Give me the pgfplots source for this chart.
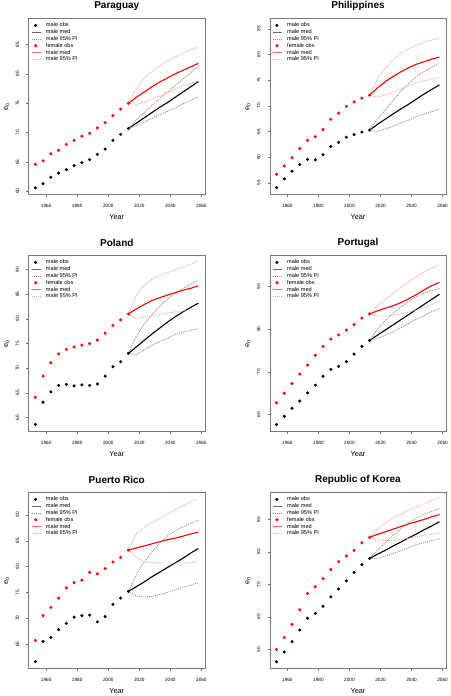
\documentclass[border=0pt]{standalone}
\usepackage{fontspec}
\setmainfont{Liberation Sans}
\usepackage{pgfplots}
\usepackage{pgfplotstable}
\pgfplotsset{compat=1.18}

\definecolor{pigrey}{RGB}{150,150,150}
\definecolor{pipink}{RGB}{255,160,160}
\definecolor{boxgrey}{RGB}{120,120,120}

\newcommand\tickfont{\fontsize{4.7}{5}\selectfont}
\newcommand\legfont{\fontsize{5.6}{6}\selectfont}
\newcommand\labfont{\fontsize{7.3}{8}\selectfont}
\newcommand\titfont{\fontsize{10}{12}\selectfont\bfseries}

\pgfplotsset{
  e0axis/.style={
    scale only axis, width=176pt, height=175.5pt,
    xmin=1948.8, xmax=2062.2,
    xtick={1960,1980,2000,2020,2040,2060},
    tick align=outside, tick pos=left,
    major tick length=2.3pt,
    axis line style={boxgrey, line width=0.6pt},
    every tick/.style={boxgrey, line width=0.5pt},
    /pgf/number format/assume math mode=true,
    /pgf/number format/1000 sep={},
    xticklabel style={font=\tickfont, inner sep=0pt, anchor=center, yshift=-9pt},
    yticklabel style={font=\tickfont, inner sep=0pt, xshift=-9pt, rotate=90, anchor=center},
    xlabel={Year}, ylabel={e\textsubscript{0}},
    xlabel style={font=\labfont, at={(axis description cs:0.5,-0.131)}, anchor=center},
    ylabel style={font=\labfont, at={(axis description cs:-0.125,0.5)}, anchor=center, rotate=0},
    every axis title shift=0pt,
    title style={font=\titfont, at={(axis description cs:0.5,1.074)}, anchor=center},
    legend cell align=left,
    legend style={draw=none, fill=none, at={(axis description cs:0.0136,0.978)}, anchor=north west,
      inner sep=0pt, font=\legfont, column sep=5pt, row sep=1.8pt,
      nodes={inner sep=0pt, text height=4pt, text depth=1pt}},
  },
  obsblack/.style={only marks, mark=*, mark size=1.35pt, black,
    legend image code/.code={\fill[black] (4pt,0pt) circle (1.35pt);}},
  obsred/.style={only marks, mark=*, mark size=1.35pt, red,
    legend image code/.code={\fill[red] (4pt,0pt) circle (1.35pt);}},
  medblack/.style={no marks, black, line width=1.1pt,
    legend image code/.code={\draw[black!60, line width=0.5pt] (0pt,0pt) -- (9pt,0pt);}},
  medred/.style={no marks, red, line width=1.1pt,
    legend image code/.code={\draw[red!60, line width=0.5pt] (0pt,0pt) -- (9pt,0pt);}},
  piblack/.style={no marks, pigrey, line width=0.9pt, dash pattern=on 1pt off 1pt,
    legend image code/.code={\draw[pigrey, line width=0.6pt, dash pattern=on 1pt off 1pt] (0pt,0pt) -- (9pt,0pt);}},
  pired/.style={no marks, pipink, line width=0.9pt, dash pattern=on 1pt off 1pt,
    legend image code/.code={\draw[pipink, line width=0.6pt, dash pattern=on 1pt off 1pt] (0pt,0pt) -- (9pt,0pt);}},
}

% observed data
\pgfplotstableread{
year m f
1953 60.6 64.6
1958 61.3 65.2
1963 62.4 66.4
1968 63.1 67.0
1973 63.7 68.0
1978 64.4 68.7
1983 64.9 69.4
1988 65.4 69.9
1993 66.3 70.8
1998 67.2 71.7
2003 68.7 72.9
2008 69.7 74.0
2013 70.7 75.0
}\paraobs
\pgfplotstableread{
year mmed mup mlo fmed fup flo
2013 70.7 70.7 70.7 75.0 75.0 75.0
2018 71.6 72.1 71.2 76.0 77.5 74.8
2023 72.5 73.4 71.8 76.9 79.2 75.2
2028 73.4 74.6 72.4 77.8 80.4 75.7
2033 74.3 75.8 73.0 78.6 81.4 76.2
2038 75.1 76.9 73.6 79.3 82.2 76.8
2043 76.0 78.0 74.2 80.0 82.9 77.4
2048 76.9 79.1 74.9 80.6 83.5 78.0
2053 77.8 80.2 75.5 81.2 84.1 78.4
2058 78.7 81.3 76.1 81.8 84.6 78.8
}\paraproj

\pgfplotstableread{
year m f
1953 54.1 56.7
1958 55.8 58.3
1963 57.3 59.9
1968 58.6 61.7
1973 59.6 63.3
1978 59.5 64.0
1983 60.5 65.4
1988 62.1 67.4
1993 62.9 68.6
1998 63.9 69.9
2003 64.4 70.8
2008 64.9 71.5
2013 65.3 72.1
}\phobs
\pgfplotstableread{
year mmed mup mlo fmed fup flo
2013 65.3 65.3 65.3 72.1 72.1 72.1
2018 66.4 67.4 65.0 73.5 75.3 71.7
2023 67.4 69.2 65.5 74.7 77.2 72.1
2028 68.4 71.0 66.0 75.7 78.9 72.7
2033 69.4 72.8 66.7 76.6 80.2 73.3
2038 70.3 74.3 67.2 77.4 81.1 73.9
2043 71.3 75.7 67.9 78.1 81.8 74.5
2048 72.3 76.7 68.4 78.6 82.4 74.9
2053 73.2 77.5 68.9 79.1 82.8 75.2
2058 74.1 78.3 69.4 79.5 83.2 75.5
}\phproj

\pgfplotstableread{
year m f
1953 58.6 64.1
1958 63.1 68.4
1963 65.2 71.1
1968 66.5 72.9
1973 66.7 73.8
1978 66.4 74.3
1983 66.6 74.7
1988 66.5 75.0
1993 66.8 75.7
1998 68.4 77.1
2003 70.3 78.7
2008 71.3 79.8
2013 73.0 81.0
}\plobs
\pgfplotstableread{
year mmed mup mlo fmed fup flo
2013 73.0 73.0 73.0 81.0 81.0 81.0
2018 74.3 76.5 72.7 82.0 84.8 80.1
2023 75.6 78.9 73.7 82.9 86.8 80.3
2028 76.9 80.8 74.6 83.7 88.0 80.6
2033 78.1 82.5 75.4 84.3 88.8 80.9
2038 79.3 84.0 76.1 84.8 89.4 81.2
2043 80.4 85.2 76.8 85.3 89.9 81.4
2048 81.4 86.2 77.3 85.8 90.5 81.6
2053 82.3 87.0 77.7 86.2 91.1 81.8
2058 83.2 87.8 78.0 86.7 91.8 82.0
}\plproj

\pgfplotstableread{
year m f
1953 57.7 62.8
1958 59.6 65.0
1963 61.5 67.3
1968 63.2 69.5
1973 65.1 71.6
1978 66.9 73.9
1983 69.0 76.0
1988 70.6 77.7
1993 71.3 78.7
1998 72.4 79.8
2003 74.2 81.1
2008 76.0 82.6
2013 77.4 83.6
}\ptobs
\pgfplotstableread{
year mmed mup mlo fmed fup flo
2013 77.4 77.4 77.4 83.6 83.6 83.6
2018 78.6 80.0 77.8 84.3 85.5 83.1
2023 79.8 82.0 78.6 84.9 87.0 83.1
2028 81.0 83.7 79.4 85.5 88.4 83.3
2033 82.2 85.2 80.3 86.2 89.8 83.6
2038 83.4 86.5 81.3 87.1 91.1 84.0
2043 84.6 87.6 82.3 88.1 92.3 84.5
2048 85.8 88.4 83.2 89.2 93.4 85.1
2053 87.0 89.0 84.1 90.2 94.3 85.8
2058 88.2 89.6 84.9 91.0 95.1 86.5
}\ptproj

\pgfplotstableread{
year m f
1953 61.6 65.7
1958 65.5 70.5
1963 66.3 72.1
1968 67.8 73.9
1973 69.0 75.9
1978 70.2 76.9
1983 70.5 77.4
1988 70.6 78.9
1993 69.3 78.6
1998 70.3 79.6
2003 72.7 80.9
2008 73.9 81.8
2013 75.2 83.2
}\probs
\pgfplotstableread{
year mmed mup mlo fmed fup flo
2013 75.2 75.2 75.2 83.2 83.2 83.2
2018 76.1 78.4 74.3 83.6 86.3 81.8
2023 77.0 80.8 74.1 84.0 87.6 81.0
2028 78.0 82.8 74.2 84.4 88.5 80.8
2033 78.9 84.5 74.6 84.8 89.3 80.7
2038 79.8 85.9 75.0 85.2 90.2 80.7
2043 80.7 86.9 75.5 85.5 91.0 80.7
2048 81.6 87.7 76.0 85.9 91.8 80.7
2053 82.6 88.4 76.4 86.3 92.5 80.8
2058 83.5 89.0 76.9 86.7 93.2 80.9
}\prproj

\pgfplotstableread{
year m f
1953 46.2 50.0
1958 49.2 53.7
1963 52.4 57.7
1968 56.0 62.2
1973 59.6 67.2
1978 61.1 69.3
1983 63.3 71.8
1988 66.2 74.6
1993 68.6 77.0
1998 71.1 78.8
2003 73.7 80.5
2008 76.1 82.8
2013 78.0 84.5
}\krobs
\pgfplotstableread{
year mmed mup mlo fmed fup flo
2013 78.0 78.0 78.0 84.5 84.5 84.5
2018 79.3 80.5 78.0 85.4 87.2 83.7
2023 80.5 82.9 78.7 86.2 88.9 83.5
2028 81.8 85.0 79.5 87.0 90.4 83.6
2033 83.0 87.1 80.3 87.8 91.7 83.9
2038 84.3 88.9 81.3 88.6 92.8 84.2
2043 85.5 90.4 82.2 89.3 93.8 84.7
2048 86.8 91.6 82.9 90.0 94.8 85.1
2053 88.0 92.5 83.5 90.8 95.8 85.5
2058 89.3 93.3 84.0 91.5 96.7 85.9
}\krproj

\newcommand{\panel}[8]{%
\begin{axis}[e0axis, at={(#1,#2)}, anchor=south west, title={#3}, ymin=#4, ymax=#5, ytick={#6}]
\addplot[obsblack] table[x=year,y=m] {#7};
\addlegendentry{male obs}
\addplot[medblack] table[x=year,y=mmed] {#8};
\addlegendentry{male med}
\addplot[piblack] table[x=year,y=mup] {#8};
\addlegendentry{male 95\% PI}
\addplot[piblack, forget plot] table[x=year,y=mlo] {#8};
\addplot[obsred] table[x=year,y=f] {#7};
\addlegendentry{female obs}
\addplot[medred] table[x=year,y=fmed] {#8};
\addlegendentry{male med}
\addplot[pired] table[x=year,y=fup] {#8};
\addlegendentry{male 95\% PI}
\addplot[pired, forget plot] table[x=year,y=flo] {#8};
\end{axis}}

\begin{document}
\begin{tikzpicture}
\path[use as bounding box] (0pt,0pt) rectangle (450pt,696pt);
\panel{28.8pt}{501.7pt}{Paraguay}{59.5}{89.4}{60,65,70,75,80,85}{\paraobs}{\paraproj}
\panel{270pt}{501.7pt}{Philippines}{52.8}{86.95}{55,60,65,70,75,80,85}{\phobs}{\phproj}
\panel{28.8pt}{264.7pt}{Poland}{57.2}{92.8}{60,65,70,75,80,85,90}{\plobs}{\plproj}
\panel{270pt}{264.7pt}{Portugal}{56.1}{97.2}{60,70,80,90}{\ptobs}{\ptproj}
\panel{28.8pt}{27.7pt}{Puerto Rico}{60.3}{94.3}{65,70,75,80,85,90}{\probs}{\prproj}
\panel{270pt}{27.7pt}{Republic of Korea}{44.2}{98.2}{50,60,70,80,90}{\krobs}{\krproj}
\end{tikzpicture}
\end{document}
